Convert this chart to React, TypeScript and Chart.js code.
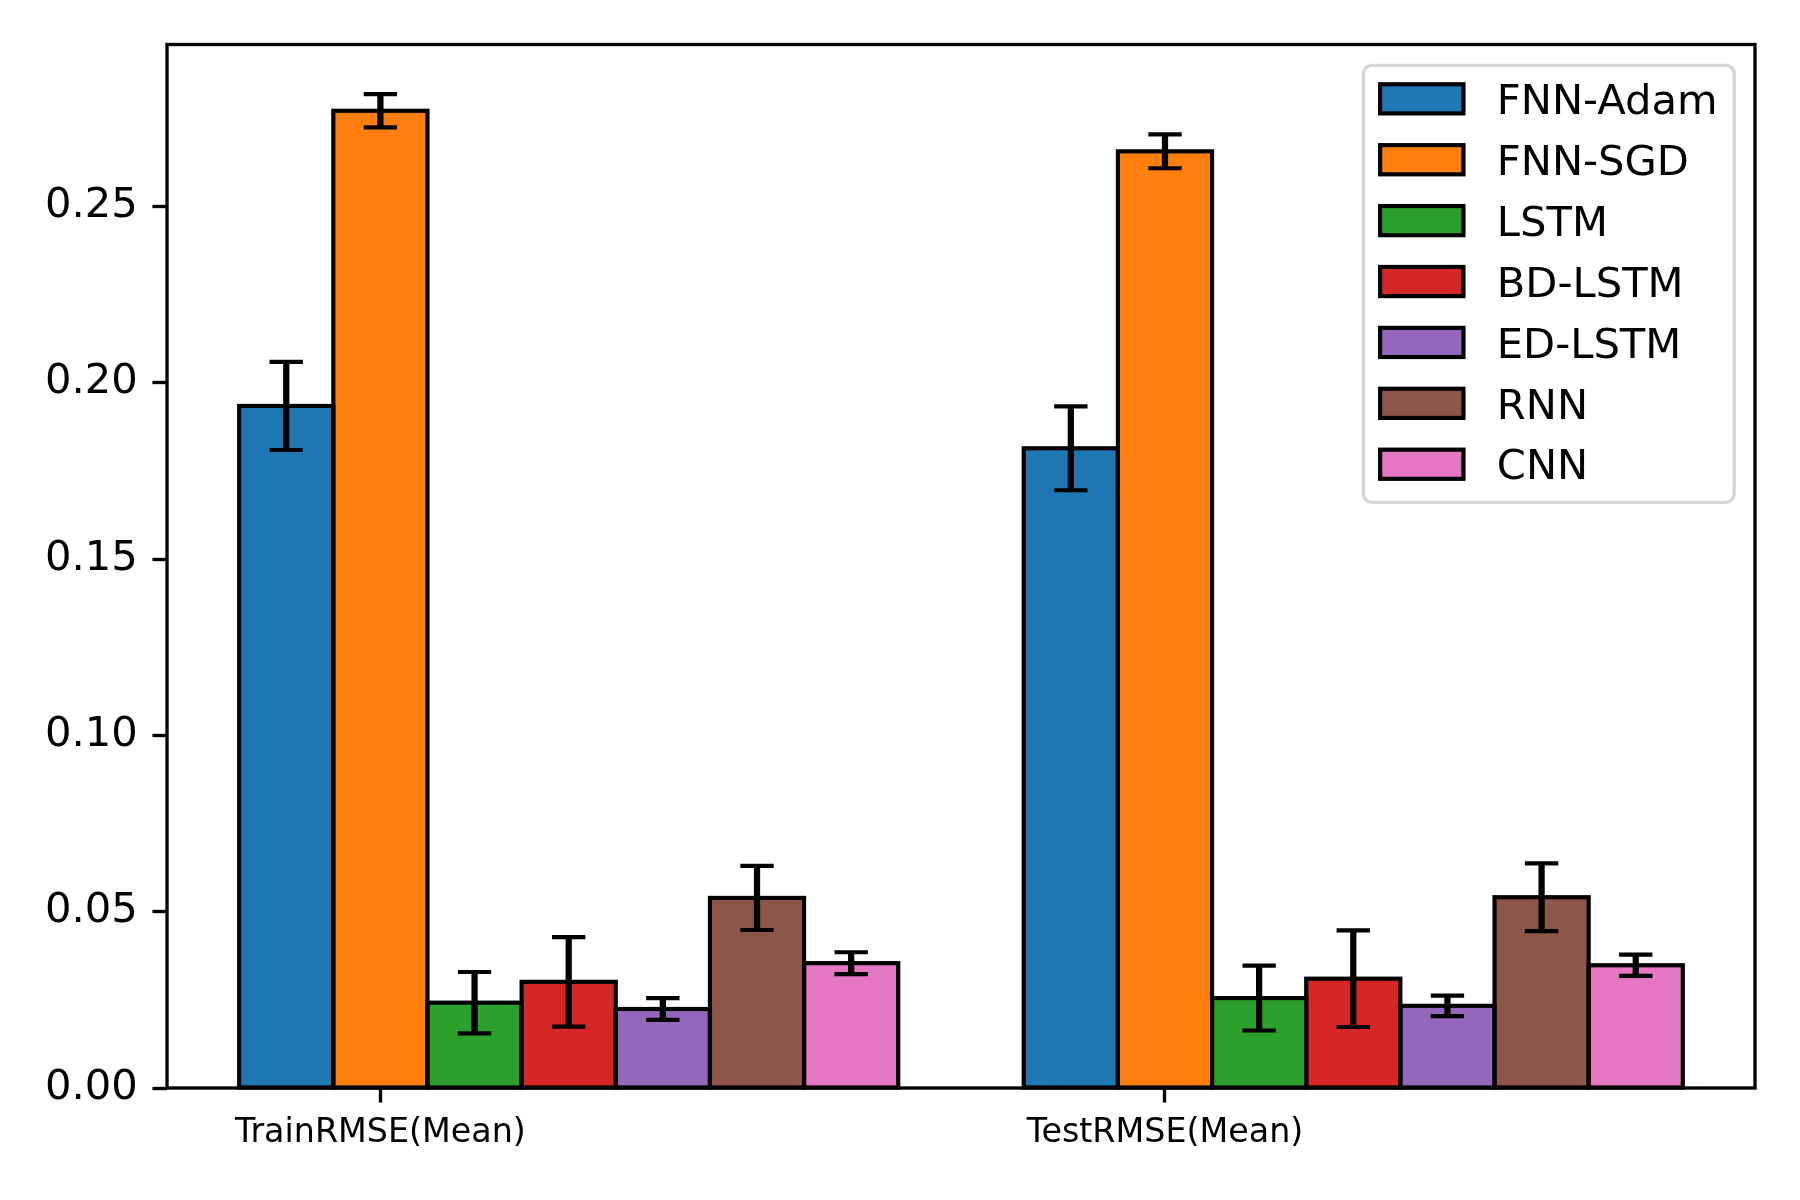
import { useEffect, useRef } from 'react';
import Chart from 'chart.js/auto';

// Series and labels
const categories = ['TrainRMSE(Mean)', 'TestRMSE(Mean)'];
const models = ['FNN-Adam', 'FNN-SGD', 'LSTM', 'BD-LSTM', 'ED-LSTM', 'RNN', 'CNN'];
const trainMean = [0.1934, 0.2771, 0.0242, 0.0301, 0.0224, 0.0539, 0.0354];
const trainStd = [0.0125, 0.0047, 0.0087, 0.0127, 0.0031, 0.0091, 0.0031];
const testMean = [0.1814, 0.2656, 0.0255, 0.0310, 0.0233, 0.0541, 0.0348];
const testStd = [0.0119, 0.0048, 0.0092, 0.0137, 0.0029, 0.0096, 0.0030];
const colors = ['#1f77b4', '#ff7f0e', '#2ca02c', '#d62728', '#9467bd', '#8c564b', '#e377c2'];
const yTicks = [0, 0.05, 0.1, 0.15, 0.2, 0.25];

const means = [trainMean, testMean];
const stds = [trainStd, testStd];

const BAR_W = 0.12;
const FONT = "'DejaVu Sans', sans-serif";
const PT = 300 / 72;

// x positions: each bar offset from its category index (tick sits on 2nd bar)
const barX = (c: number, i: number) => c + (i - 1) * BAR_W;
const xLo = barX(0, 0) - BAR_W / 2;
const xHi = barX(categories.length - 1, models.length - 1) + BAR_W / 2;
const xMargin = (xHi - xLo) * 0.05;
const yTop = Math.max(...means.flatMap((m, c) => m.map((v, i) => v + stds[c][i]))) * 1.05;

const errorBarsPlugin = {
  id: 'errorBars',
  afterDatasetsDraw(chart: any) {
    const { ctx, chartArea, scales } = chart;
    const y = scales.y;
    ctx.save();
    // bar outlines (centered on the bar edge like matplotlib)
    chart.data.datasets.forEach((_: any, i: number) => {
      const meta = chart.getDatasetMeta(i);
      meta.data.forEach((el: any) => {
        const p = el.getProps(['x', 'y', 'base', 'width'], true);
        ctx.lineWidth = 1.0 * PT;
        ctx.strokeStyle = '#000';
        ctx.lineJoin = 'miter';
        ctx.strokeRect(p.x - p.width / 2, p.y, p.width, p.base - p.y);
      });
    });
    // error bars
    chart.data.datasets.forEach((_: any, i: number) => {
      const meta = chart.getDatasetMeta(i);
      meta.data.forEach((el: any, c: number) => {
        const m = means[c][i];
        const s = stds[c][i];
        const px = el.x;
        const hi = y.getPixelForValue(m + s);
        const lo = y.getPixelForValue(m - s);
        ctx.strokeStyle = '#000';
        ctx.lineCap = 'butt';
        ctx.lineWidth = 1.5 * PT;
        ctx.beginPath();
        ctx.moveTo(px, hi);
        ctx.lineTo(px, lo);
        ctx.stroke();
        ctx.lineWidth = 1.0 * PT;
        const half = 4 * PT;
        ctx.beginPath();
        ctx.moveTo(px - half, hi);
        ctx.lineTo(px + half, hi);
        ctx.moveTo(px - half, lo);
        ctx.lineTo(px + half, lo);
        ctx.stroke();
      });
    });
    // spines
    ctx.lineWidth = 0.8 * PT;
    ctx.strokeStyle = '#000';
    ctx.strokeRect(chartArea.left, chartArea.top, chartArea.right - chartArea.left, chartArea.bottom - chartArea.top);
    ctx.restore();
  },
};

const legendPlugin = {
  id: 'boxLegend',
  afterDraw(chart: any) {
    const { ctx, chartArea } = chart;
    const fs = 10 * PT;
    const pad = 0.4 * fs;
    const handleW = 2.0 * fs;
    const handleH = 0.7 * fs;
    const textPad = 0.8 * fs;
    const rowH = 60.9;
    ctx.save();
    ctx.font = `${fs}px ${FONT}`;
    const labels: string[] = chart.data.datasets.map((d: any) => d.label);
    const textW = Math.max(...labels.map((l) => ctx.measureText(l).width));
    const w = pad * 2 + handleW + textPad + textW;
    const h = 437;
    const right = chartArea.right - 0.5 * fs;
    const top = chartArea.top + 0.5 * fs;
    const left = right - w;
    ctx.fillStyle = '#fff';
    ctx.strokeStyle = '#d6d6d6';
    ctx.lineWidth = 0.8 * PT;
    ctx.beginPath();
    ctx.roundRect(left, top, w, h, 0.2 * fs);
    ctx.fill();
    ctx.stroke();
    chart.data.datasets.forEach((d: any, i: number) => {
      const cy = top + 33.5 + i * rowH;
      const hx = left + pad;
      ctx.fillStyle = d.backgroundColor;
      ctx.fillRect(hx, cy - handleH / 2, handleW, handleH);
      ctx.lineWidth = 1.0 * PT;
      ctx.strokeStyle = '#000';
      ctx.strokeRect(hx, cy - handleH / 2, handleW, handleH);
      ctx.fillStyle = '#000';
      ctx.textAlign = 'left';
      ctx.textBaseline = 'alphabetic';
      ctx.fillText(d.label, hx + handleW + textPad, cy + 0.365 * fs);
    });
    ctx.restore();
  },
};

export default function App() {
  const canvasRef = useRef<HTMLCanvasElement>(null);

  useEffect(() => {
    if (!canvasRef.current) return;
    const chart = new Chart(canvasRef.current, {
      type: 'bar',
      data: {
        datasets: models.map((m, i) => ({
          label: m,
          data: categories.map((_, c) => ({ x: barX(c, i), y: means[c][i] })),
          backgroundColor: colors[i],
          borderWidth: 0,
          grouped: false,
          barPercentage: 1,
          categoryPercentage: 1,
          inflateAmount: 0,
        })),
      },
      options: {
        animation: false,
        responsive: true,
        maintainAspectRatio: false,
        devicePixelRatio: 1,
        layout: { padding: { top: 44.5, right: 45, left: 0, bottom: 0 } },
        plugins: {
          legend: { display: false },
          tooltip: { enabled: false },
        },
        scales: {
          x: {
            type: 'linear',
            min: xLo - xMargin,
            max: xHi + xMargin,
            offset: false,
            afterBuildTicks: (scale: any) => {
              scale.ticks = categories.map((_, c) => ({ value: c }));
            },
            afterFit: (scale: any) => {
              scale.height = 112;
            },
            ticks: {
              callback: (v: any) => categories[Math.round(Number(v))],
              color: '#000',
              font: { family: FONT, size: 8 * PT },
              padding: 11,
              maxRotation: 0,
              autoSkip: false,
            },
            grid: {
              offset: false,
              drawOnChartArea: false,
              drawTicks: true,
              tickLength: 3.5 * PT,
              tickWidth: 0.8 * PT,
              tickColor: '#000',
            },
            border: { display: false },
          },
          y: {
            type: 'linear',
            min: 0,
            max: yTop,
            afterBuildTicks: (scale: any) => {
              scale.ticks = yTicks.map((v) => ({ value: v }));
            },
            afterFit: (scale: any) => {
              scale.width = 167;
            },
            ticks: {
              callback: (v: any) => Number(v).toFixed(2),
              color: '#000',
              font: { family: FONT, size: 10 * PT },
              padding: 3.5 * PT,
            },
            grid: {
              drawOnChartArea: false,
              drawTicks: true,
              tickLength: 3.5 * PT,
              tickWidth: 0.8 * PT,
              tickColor: '#000',
            },
            border: { display: false },
          },
        },
      },
      plugins: [errorBarsPlugin, legendPlugin],
    });
    return () => chart.destroy();
  }, []);

  return (
    <div style={{ position: 'absolute', left: 0, top: 0, width: 1800, height: 1200, background: '#fff' }}>
      <canvas ref={canvasRef} />
    </div>
  );
}
